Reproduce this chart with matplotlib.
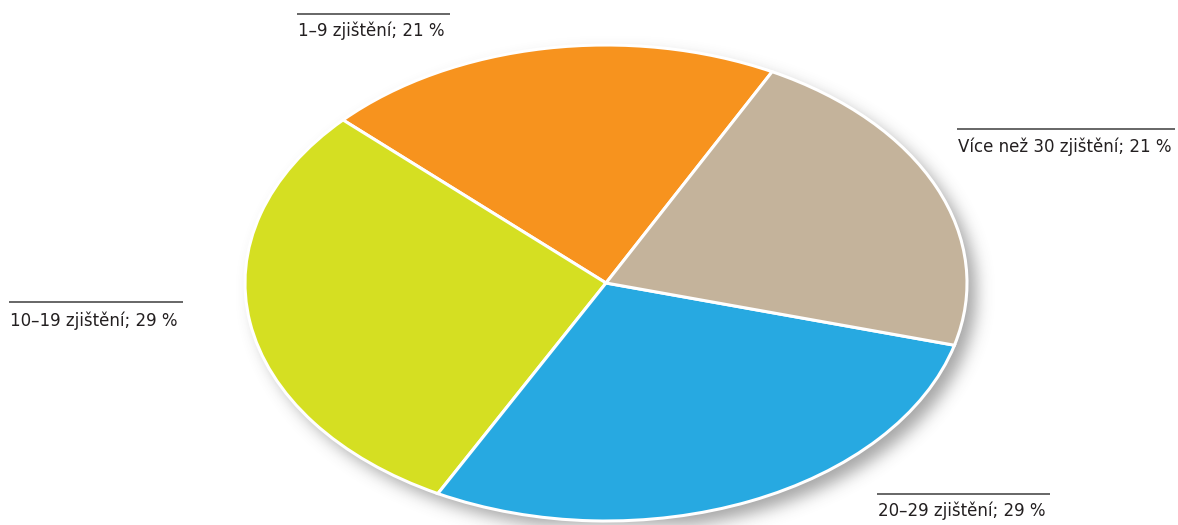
import numpy as np
import matplotlib
matplotlib.use("Agg")
import matplotlib.pyplot as plt

categories = ["1–9 zjištění", "10–19 zjištění", "20–29 zjištění", "Více než 30 zjištění"]
values = [20.6, 29.3, 28.5, 21.6]          # slice sizes
shown_pct = [21, 29, 29, 21]               # percentages printed in the labels
colors = ["#F7931E", "#D5DF22", "#27A9E1", "#C4B39B"]

W, H = 1178, 525
fig = plt.figure(figsize=(W / 100, H / 100), dpi=100)
fig.patch.set_facecolor("white")

# soft drop shadow behind the pie (decoration)
cx, cy, rx, ry = 606, 283, 361, 238
yy, xx = np.mgrid[0:H, 0:W]
mask = (((xx - (cx + 9)) / rx) ** 2 + ((yy - (cy + 9)) / ry) ** 2 <= 1).astype(float)
sig = 8.0
k = np.arange(-26, 27)
g = np.exp(-k ** 2 / (2 * sig ** 2)); g /= g.sum()
blur = np.apply_along_axis(lambda r: np.convolve(r, g, mode="same"), 1, mask)
blur = np.apply_along_axis(lambda c: np.convolve(c, g, mode="same"), 0, blur)
rgba = np.zeros((H, W, 4))
rgba[..., :3] = 0.3
rgba[..., 3] = blur * 0.5
sax = fig.add_axes([0, 0, 1, 1], zorder=0)
sax.imshow(rgba, extent=(0, W, H, 0), interpolation="bilinear")
sax.set_xlim(0, W); sax.set_ylim(H, 0); sax.axis("off")

ax = fig.add_axes([(cx - rx) / W, (H - (cy + ry)) / H, 2 * rx / W, 2 * ry / H], zorder=1)
ax.pie(values, colors=colors, startangle=62.6, counterclock=True, radius=1,
       wedgeprops=dict(edgecolor="white", linewidth=2.2, antialiased=True))
ax.set_aspect("auto")
ax.set_xlim(-1, 1); ax.set_ylim(-1, 1)
ax.axis("off")

# labels with overline (pixel positions: line x0, x1, line y, text y)
lab_pos = [(297, 450, 14, 31), (9, 183, 302, 321), (877, 1050, 494, 511), (957, 1175, 129, 147)]
tax = fig.add_axes([0, 0, 1, 1], zorder=2)
tax.set_xlim(0, W); tax.set_ylim(H, 0); tax.axis("off")
for cat, p, (x0, x1, ly, ty) in zip(categories, shown_pct, lab_pos):
    tax.plot([x0, x1], [ly, ly], color="#4d4d4d", lw=1.2, solid_capstyle="butt")
    tax.text(x0 + 1, ty, f"{cat}; {p} %", fontsize=12.0, color="#231f20",
             ha="left", va="center", family="DejaVu Sans")

fig.savefig("out.png", dpi=100)
